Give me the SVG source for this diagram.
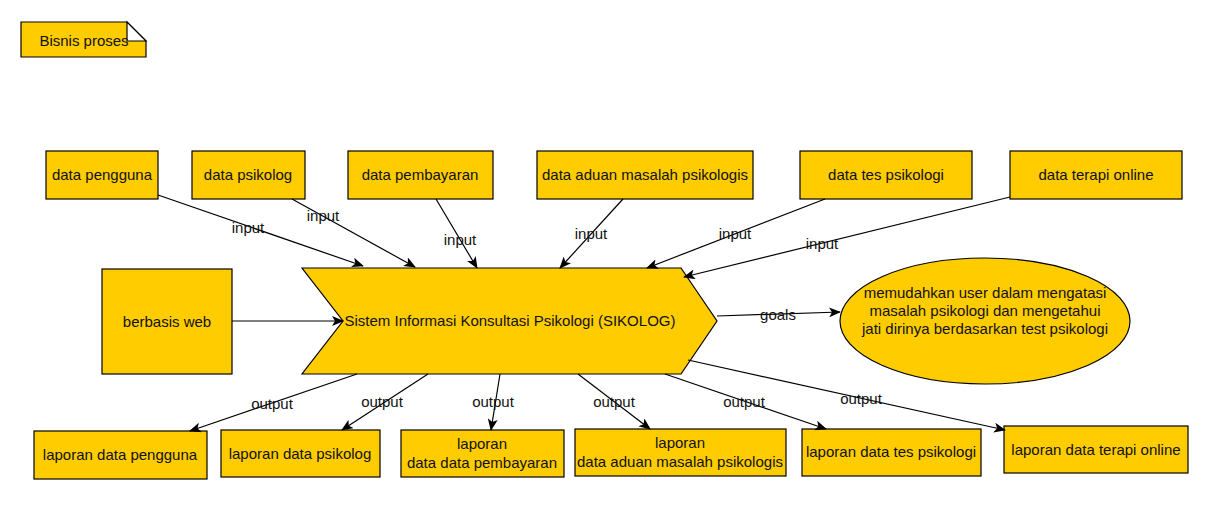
<svg xmlns="http://www.w3.org/2000/svg" width="1220" height="519" viewBox="0 0 1220 519">
<defs>
<marker id="arr" viewBox="0 0 12 10" refX="11" refY="5" markerWidth="12" markerHeight="10" markerUnits="userSpaceOnUse" orient="auto">
<path d="M0,0 L12,5 L0,10 L3,5 Z" fill="#000"/>
</marker>
<style>
.n{fill:#FFCC00;stroke:#000;stroke-width:1.2}
.t{font-family:"Liberation Sans",Arial,sans-serif;font-size:15px;fill:#111;text-anchor:middle}
.c{fill:none;stroke:#000;stroke-width:1.2;marker-end:url(#arr)}
</style>
</defs>
<rect width="1220" height="519" fill="#fff"/>
<g id="note">
<path class="n" d="M21,22 L127,22 L146,41 L146,57 L21,57 Z"/>
<path d="M127,22 L127,41 L146,41 Z" fill="#fff" stroke="#000" stroke-width="1.2"/>
<text class="t" x="84" y="46">Bisnis proses</text>
</g>
<g id="in1"><rect class="n" x="46" y="151" width="112" height="48"/><text class="t" x="102" y="180">data pengguna</text></g>
<g id="in2"><rect class="n" x="192" y="151" width="113" height="48"/><text class="t" x="248" y="180">data psikolog</text></g>
<g id="in3"><rect class="n" x="348" y="151" width="145" height="48"/><text class="t" x="420" y="180">data pembayaran</text></g>
<g id="in4"><rect class="n" x="537" y="151" width="216" height="48"/><text class="t" x="645" y="180">data aduan masalah psikologis</text></g>
<g id="in5"><rect class="n" x="800" y="151" width="172" height="48"/><text class="t" x="886" y="180">data tes psikologi</text></g>
<g id="in6"><rect class="n" x="1010" y="151" width="172" height="48"/><text class="t" x="1096" y="180">data terapi online</text></g>
<g id="web"><rect class="n" x="102" y="269" width="130" height="105"/><text class="t" x="167" y="327">berbasis web</text></g>
<g id="system">
<path class="n" d="M302,268 L681,268 L717,321 L681,374 L302,374 L343,321 Z"/>
<text class="t" x="510" y="326">Sistem Informasi Konsultasi Psikologi (SIKOLOG)</text>
</g>
<g id="goal">
<ellipse class="n" cx="985" cy="321" rx="145" ry="63"/>
<text class="t" x="985" y="298">memudahkan user dalam mengatasi</text>
<text class="t" x="985" y="316">masalah psikologi dan mengetahui </text>
<text class="t" x="985" y="334">jati dirinya berdasarkan test psikologi</text>
</g>
<g id="out1"><rect class="n" x="34" y="431" width="173" height="48"/><text class="t" x="120" y="460">laporan data pengguna</text></g>
<g id="out2"><rect class="n" x="221" y="430" width="159" height="47"/><text class="t" x="300" y="459">laporan data psikolog</text></g>
<g id="out3"><rect class="n" x="401" y="430" width="163" height="47"/><text class="t" x="482" y="449">laporan</text><text class="t" x="482" y="468">data data pembayaran</text></g>
<g id="out4"><rect class="n" x="575" y="429" width="211" height="47"/><text class="t" x="680" y="448">laporan</text><text class="t" x="680" y="467">data aduan masalah psikologis</text></g>
<g id="out5"><rect class="n" x="802" y="429" width="179" height="47"/><text class="t" x="891" y="457">laporan data tes psikologi</text></g>
<g id="out6"><rect class="n" x="1004" y="426" width="184" height="47"/><text class="t" x="1096" y="455">laporan data terapi online</text></g>
<g id="connectors">
<path class="c" d="M158,195 L363,266"/>
<path class="c" d="M292,199 L415,267"/>
<path class="c" d="M436,199 L477,268"/>
<path class="c" d="M623,199 L560,268"/>
<path class="c" d="M825,199 L647,268"/>
<path class="c" d="M1010,197 L684,277"/>
<path class="c" d="M232,321 L343,321"/>
<path class="c" d="M717,316 L840,312"/>
<path class="c" d="M357,374 L190,431"/>
<path class="c" d="M428,374 L342,430"/>
<path class="c" d="M500,374 L491,430"/>
<path class="c" d="M578,374 L650,429"/>
<path class="c" d="M665,374 L826,429"/>
<path class="c" d="M688,360 L1005,430"/>
<text class="t" x="248" y="233">input</text>
<text class="t" x="323" y="221">input</text>
<text class="t" x="460" y="245">input</text>
<text class="t" x="591" y="239">input</text>
<text class="t" x="735" y="239">input</text>
<text class="t" x="822" y="249">input</text>
<text class="t" x="778" y="320">goals</text>
<text class="t" x="272" y="409">output</text>
<text class="t" x="382" y="407">output</text>
<text class="t" x="493" y="407">output</text>
<text class="t" x="614" y="407">output</text>
<text class="t" x="744" y="407">output</text>
<text class="t" x="861" y="404">output</text>
</g>
</svg>
